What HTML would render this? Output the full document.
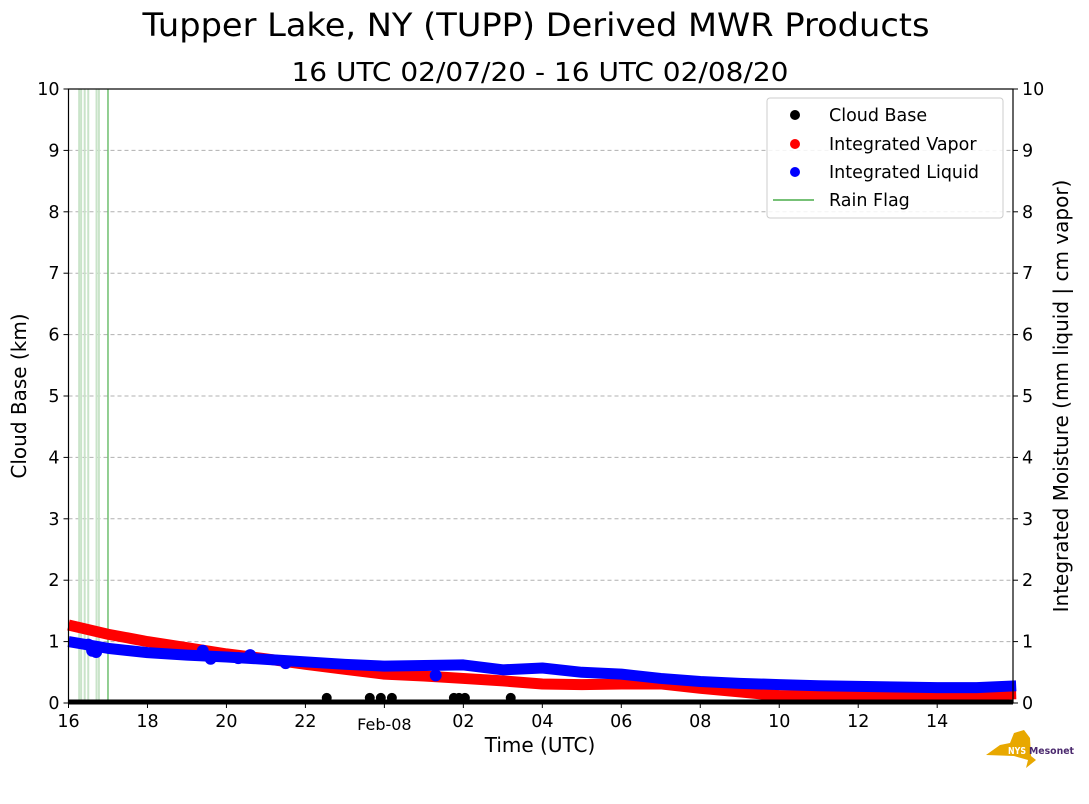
<!DOCTYPE html>
<html><head><meta charset="utf-8"><style>
html,body{margin:0;padding:0;background:#fff}
svg{display:block;font-family:"DejaVu Sans","Liberation Sans",sans-serif}
</style></head><body>
<svg id="chart" width="1089" height="804" viewBox="0 0 1089 804" xmlns="http://www.w3.org/2000/svg">
<text x="536" y="36" font-size="32" text-anchor="middle" textLength="787" lengthAdjust="spacingAndGlyphs">Tupper Lake, NY (TUPP) Derived MWR Products</text>
<text x="540" y="81" font-size="26" text-anchor="middle" textLength="497" lengthAdjust="spacingAndGlyphs">16 UTC 02/07/20 - 16 UTC 02/08/20</text>
<g id="grid"></g>
<g id="rain"></g>
<g id="series"></g>
<g id="axes"></g>
<text x="540" y="752" font-size="20" text-anchor="middle">Time (UTC)</text>
<text transform="translate(26,396) rotate(-90)" font-size="20" text-anchor="middle">Cloud Base (km)</text>
<text transform="translate(1068,396) rotate(-90)" font-size="20" text-anchor="middle">Integrated Moisture (mm liquid | cm vapor)</text>
<g>
<rect x="767" y="98" width="236" height="120" rx="3" fill="#fff" fill-opacity="0.85" stroke="#ccc"/>
<g><circle cx="795" cy="115" r="5" fill="#000"/><text x="829" y="121" font-size="17.5">Cloud Base</text></g>
<g><circle cx="795" cy="144" r="5" fill="red"/><text x="829" y="150" font-size="17.5">Integrated Vapor</text></g>
<g><circle cx="795" cy="172" r="5" fill="#0000ff"/><text x="829" y="178" font-size="17.5">Integrated Liquid</text></g>
<g><line x1="773" x2="814" y1="200" y2="200" stroke="#77c177" stroke-width="2"/><text x="829" y="206" font-size="17.5">Rain Flag</text></g>
</g>
<g>
<path d="M986,755 L1000,745 L1010,743 L1014,733 L1024,730 L1030,738 L1031,756 L1036,760 L1026,768 L1028,760 L1014,756 Z" fill="#e8a800"/>
<text x="1008" y="754" font-size="10" font-weight="bold" fill="#fff" textLength="18" lengthAdjust="spacingAndGlyphs">NYS</text>
<text x="1029" y="754" font-size="10" font-weight="bold" fill="#4b2a6e" textLength="45" lengthAdjust="spacingAndGlyphs">Mesonet</text>
</g>
</svg>
<script>
// hours since 16 UTC 02/07
const vaporHours = [0,1,2,3,4,5,6,7,8,9,10,11,12,13,14,15,16,17,18,19,20,21,22,23,24];
const vaporValues = [1.27,1.12,1.0,0.9,0.8,0.72,0.63,0.55,0.47,0.44,0.40,0.36,0.31,0.30,0.31,0.31,0.24,0.18,0.12,0.12,0.12,0.12,0.12,0.13,0.15];
const liquidHours = [0,1,2,3,4,5,6,7,8,9,10,11,12,13,14,15,16,17,18,19,20,21,22,23,24];
const liquidValues = [1.0,0.89,0.82,0.78,0.75,0.71,0.67,0.63,0.60,0.61,0.62,0.54,0.57,0.50,0.47,0.40,0.35,0.32,0.30,0.28,0.27,0.26,0.25,0.25,0.28];
const liquidOutlierHours = [0.5,0.6,0.7,3.4,3.6,4.3,4.6,5.5,9.3];
const liquidOutlierValues = [0.95,0.85,0.83,0.85,0.72,0.73,0.78,0.65,0.45];
const cloudHours = [6.54,7.63,7.91,8.19,9.76,9.89,10.04,11.2];
const cloudValues = [0.1,0.1,0.1,0.1,0.1,0.1,0.1,0.1];
const rainHours = [0.27,0.32,0.41,0.5,0.71,0.77];
const rainStrongHours = [1.0];
const xTickHours = [0,2,4,6,8,10,12,14,16,18,20,22];
const xTickLabels = ["16","18","20","22","Feb-08","02","04","06","08","10","12","14"];
const yTicks = [0,1,2,3,4,5,6,7,8,9,10];

const L=68.5,R=1013,T=89,B=703,HSPAN=23.92;
const xs=h=>L+h*(R-L)/HSPAN;
const ys=v=>B-v*(B-T)/10;
const NS="http://www.w3.org/2000/svg";
function mk(tag,parent,attrs){const e=document.createElementNS(NS,tag);for(const k in attrs)e.setAttribute(k,attrs[k]);parent.appendChild(e);return e;}
const grid=document.getElementById('grid'),rain=document.getElementById('rain'),series=document.getElementById('series'),axes=document.getElementById('axes');
yTicks.forEach(v=>{
  if(v>0&&v<10){const g=mk('line',grid,{x1:L,x2:R,y1:ys(v),y2:ys(v),stroke:'#b0b0b0','stroke-dasharray':'4,3','stroke-width':1});
  
  }
  mk('line',axes,{x1:L-5,x2:L,y1:ys(v),y2:ys(v),stroke:'#000'});
  mk('line',axes,{x1:R,x2:R+5,y1:ys(v),y2:ys(v),stroke:'#000'});
  const a=mk('text',axes,{x:L-9,y:ys(v)+6,'font-size':17.5,'text-anchor':'end'});a.textContent=v;
  
  
  const b=mk('text',axes,{x:R+9,y:ys(v)+6,'font-size':17.5});b.textContent=v;
  
  
});
xTickHours.forEach((h,i)=>{
  mk('line',axes,{x1:xs(h),x2:xs(h),y1:B,y2:B+5,stroke:'#000'});
  const t=mk('text',axes,{x:xs(h),y:B+(i==4?27:24),'font-size':i==4?16:17.5,'text-anchor':'middle'});t.textContent=xTickLabels[i];
  
  
});
mk('rect',axes,{x:L,y:T,width:R-L,height:B-T,fill:'none',stroke:'#000','stroke-width':1.2});
rainHours.forEach(h=>{const l=mk('line',rain,{x1:xs(h),x2:xs(h),y1:T,y2:B,stroke:'#c9e4c9','stroke-width':2});
  
  });
rainStrongHours.forEach(h=>{const l=mk('line',rain,{x1:xs(h),x2:xs(h),y1:T,y2:B,stroke:'#6fbf6f','stroke-width':1.5});
  
  });
function band(hs,vs,color,name){
  const p=mk('polyline',series,{points:hs.map((h,i)=>xs(h)+','+ys(vs[i])).join(' '),fill:'none',stroke:color,'stroke-width':11,'stroke-linejoin':'round','stroke-linecap':'butt'});
  
  
}
band(vaporHours,vaporValues,'#ff0000','integrated-vapor-series');
band(liquidHours,liquidValues,'#0000ff','integrated-liquid-series');
liquidOutlierHours.forEach((h,i)=>{const c=mk('circle',series,{cx:xs(h),cy:ys(liquidOutlierValues[i]),r:6,fill:'#0000ff'});
  
  });
const base=mk('line',series,{x1:L,x2:R,y1:B-1,y2:B-1,stroke:'#000','stroke-width':5});


cloudHours.forEach((h,i)=>{const c=mk('circle',series,{cx:xs(h),cy:ys(cloudValues[i])+1,r:5,fill:'#000'});
  
  });
</script>
</body></html>
